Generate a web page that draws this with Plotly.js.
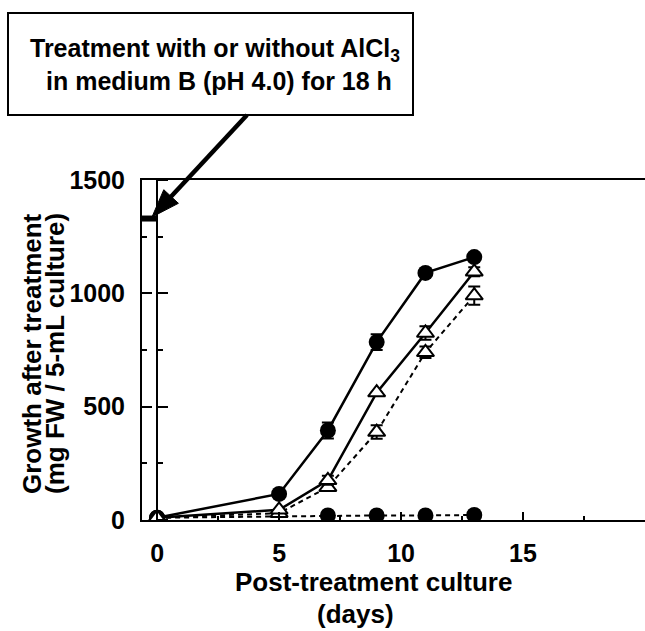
<!DOCTYPE html>
<html>
<head>
<meta charset="utf-8">
<script src="https://cdn.plot.ly/plotly-3.0.1.min.js"></script>
<style>html,body{margin:0;padding:0;background:#fff}#chart{width:645px;height:631px}</style>
</head>
<body>
<div id="chart"></div>
<script>
// ---- data ----
const days = [0, 5, 7, 9, 11, 13];
const circleSolid = [10, 115, 395, 785, 1090, 1160];
const circleSolidErr = [0, 0, 35, 35, 0, 0];
const triSolid = [10, 45, 175, 562, 825, 1095];
const triSolidErr = [0, 0, 20, 0, 30, 20];
const triDashed = [10, 30, 145, 388, 740, 990];
const triDashedErr = [0, 0, 15, 30, 25, 40];
const circleDashedDays = [0, 7, 9, 11, 13];
const circleDashed = [10, 20, 20, 20, 22];
const treatDays = [-0.62, 0];
const treatLevel = [1330, 1330];
const xTicks = [0, 5, 10, 15];
const yTicks = [0, 500, 1000, 1500];

const X_MIN = -0.62, X_MAX = 20.0;
const FONT = 'Liberation Sans, Arial, Helvetica, sans-serif';

const errCfg = (arr) => ({type: 'data', array: arr, visible: true, color: '#000', thickness: 2, width: 6});

const traces = [
  {x: circleDashedDays, y: circleDashed, mode: 'lines+markers',
   line: {color: '#000', width: 2, dash: '5px,4px'},
   marker: {symbol: 'circle', size: 16, color: '#000'}},
  {x: days, y: circleSolid, mode: 'lines+markers', error_y: errCfg(circleSolidErr),
   line: {color: '#000', width: 2.5},
   marker: {symbol: 'circle', size: 16, color: '#000'}},
  {x: days, y: triDashed, mode: 'lines+markers', error_y: errCfg(triDashedErr),
   line: {color: '#000', width: 2, dash: '5px,4px'},
   marker: {symbol: 'triangle-up', size: 15, color: '#fff', line: {color: '#000', width: 2}}},
  {x: days, y: triSolid, mode: 'lines+markers', error_y: errCfg(triSolidErr),
   line: {color: '#000', width: 2.5},
   marker: {symbol: 'triangle-up', size: 15, color: '#fff', line: {color: '#000', width: 2}}},
  {x: treatDays, y: treatLevel, yaxis: 'y2', mode: 'lines',
   line: {color: '#000', width: 6}}
];

const plotW = 645 - 142, plotH = 631 - 180 - 111;
const px = (p) => (p - 142) / plotW;      // pixel x -> paper
const py = (p) => (520 - p) / plotH;      // pixel y -> paper
const zeroPos = (0 - X_MIN) / (X_MAX - X_MIN);

// pointer arrow (decoration) from the text box to the treatment bar
const tail = [247, 115], tip = [152, 217];
const dx = tip[0] - tail[0], dy = tip[1] - tail[1], L = Math.hypot(dx, dy);
const ux = dx / L, uy = dy / L, headLen = 28, headHalf = 10;
const base = [tip[0] - ux * headLen, tip[1] - uy * headLen];
const c1 = [base[0] - uy * headHalf, base[1] + ux * headHalf];
const c2 = [base[0] + uy * headHalf, base[1] - ux * headHalf];
const P = (p) => px(p[0]) + ',' + py(p[1]);

const layout = {
  width: 645, height: 631,
  margin: {l: 142, r: 0, t: 180, b: 111},
  paper_bgcolor: '#fff', plot_bgcolor: '#fff',
  showlegend: false,
  font: {family: FONT, color: '#000'},
  xaxis: {
    range: [X_MIN, X_MAX], tickvals: xTicks,
    ticks: 'inside', ticklen: 8, tickwidth: 2, tickcolor: '#000',
    minor: {dtick: 2.5, tick0: 0, ticks: 'inside', ticklen: 4, tickwidth: 1.5, tickcolor: '#000', showgrid: false},
    showline: true, linewidth: 2, linecolor: '#000', mirror: true,
    showgrid: false, zeroline: false,
    tickfont: {family: FONT, size: 25, weight: 'bold', color: '#000'},
    ticklabelstandoff: 10
  },
  yaxis: {
    range: [0, 1500], tickvals: yTicks,
    ticks: 'inside', ticklen: 10, tickwidth: 2, tickcolor: '#000',
    minor: {dtick: 250, tick0: 0, ticks: 'inside', ticklen: 5, tickwidth: 2, tickcolor: '#000', showgrid: false},
    showline: true, linewidth: 2, linecolor: '#000',
    showgrid: false, zeroline: false,
    tickfont: {family: FONT, size: 25, weight: 'bold', color: '#000'},
    ticklabelstandoff: 10
  },
  yaxis2: {
    range: [0, 1500], overlaying: 'y', anchor: 'free', position: zeroPos, side: 'right',
    tickvals: yTicks, showticklabels: false,
    ticks: 'outside', ticklen: 10, tickwidth: 2, tickcolor: '#000',
    minor: {dtick: 250, tick0: 0, ticks: 'outside', ticklen: 5, tickwidth: 2, tickcolor: '#000', showgrid: false},
    showline: true, linewidth: 2, linecolor: '#000',
    showgrid: false, zeroline: false
  },
  shapes: [
    {type: 'rect', xref: 'paper', yref: 'paper', x0: px(8), x1: px(413), y0: py(115), y1: py(13),
     line: {color: '#000', width: 2}, fillcolor: 'rgba(0,0,0,0)'},
    {type: 'line', xref: 'paper', yref: 'paper', x0: px(tail[0]), y0: py(tail[1]),
     x1: px(base[0] + ux * 4), y1: py(base[1] + uy * 4), line: {color: '#000', width: 4.5}},
    {type: 'path', xref: 'paper', yref: 'paper',
     path: 'M' + P(tip) + ' L' + P(c1) + ' L' + P(c2) + ' Z',
     fillcolor: '#000', line: {color: '#000', width: 1}}
  ],
  annotations: [
    {xref: 'paper', yref: 'paper', x: px(215), y: py(50), xanchor: 'center', yanchor: 'middle',
     text: 'Treatment with or without AlCl<sub>3</sub>', showarrow: false,
     font: {family: FONT, size: 25, weight: 'bold', color: '#000'}},
    {xref: 'paper', yref: 'paper', x: px(219), y: py(81), xanchor: 'center', yanchor: 'middle',
     text: 'in medium B (pH 4.0) for 18 h', showarrow: false,
     font: {family: FONT, size: 25, weight: 'bold', color: '#000'}},
    {xref: 'paper', yref: 'paper', x: px(373), y: py(582), xanchor: 'center', yanchor: 'middle',
     text: 'Post-treatment culture', showarrow: false,
     font: {family: FONT, size: 26, weight: 'bold', color: '#000'}},
    {xref: 'paper', yref: 'paper', x: px(355), y: py(631), xanchor: 'center', yanchor: 'bottom',
     text: '(days)', showarrow: false,
     font: {family: FONT, size: 26, weight: 'bold', color: '#000'}},
    {xref: 'paper', yref: 'paper', x: px(32), y: py(354), xanchor: 'center', yanchor: 'middle', textangle: -90,
     text: 'Growth after treatment', showarrow: false,
     font: {family: FONT, size: 26, weight: 'bold', color: '#000'}},
    {xref: 'paper', yref: 'paper', x: px(55), y: py(354), xanchor: 'center', yanchor: 'middle', textangle: -90,
     text: '(mg FW / 5-mL culture)', showarrow: false,
     font: {family: FONT, size: 26, weight: 'bold', color: '#000'}}
  ]
};

Plotly.newPlot('chart', traces, layout, {staticPlot: true, displayModeBar: false});
</script>
</body>
</html>
